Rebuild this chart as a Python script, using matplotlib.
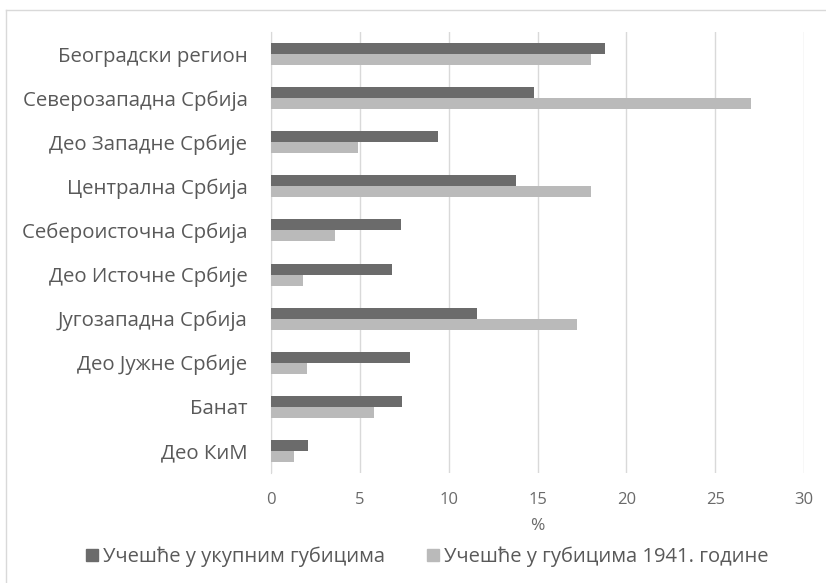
import matplotlib.pyplot as plt
from matplotlib.lines import Line2D
import numpy as np

plt.rcParams['font.family'] = ['Open Sans', 'DejaVu Sans']

regions = ['Београдски регион', 'Северозападна Србија', 'Део Западне Србије',
           'Централна Србија', 'Себероисточна Србија', 'Део Источне Србије',
           'Југозападна Србија', 'Део Јужне Србије', 'Банат', 'Део КиМ']
total_losses = [18.8, 14.8, 9.4, 13.8, 7.3, 6.8, 11.6, 7.8, 7.4, 2.1]
losses_1941 = [18.0, 27.0, 4.9, 18.0, 3.6, 1.8, 17.2, 2.05, 5.8, 1.3]
xticks = [0, 5, 10, 15, 20, 25, 30]

dark = '#6b6b6b'
light = '#bababa'
txt = '#595959'

fig = plt.figure(figsize=(8.26, 5.83), dpi=100)
ax = fig.add_axes([271/826, 1 - 473/583, (804-271)/826, (473-32)/583])

y = np.arange(len(regions))
h = 0.25
ax.barh(y - h/2, total_losses, height=h, color=dark, zorder=3)
ax.barh(y + h/2, losses_1941, height=h, color=light, zorder=3)

ax.set_ylim(len(regions) - 0.5, -0.5)
ax.set_xlim(0, 30)
ax.set_xticks(xticks)
ax.set_yticks(y)
ax.set_yticklabels(regions, fontsize=14.7, color=txt)
ax.tick_params(axis='y', length=0, pad=17)
ax.tick_params(axis='x', length=0, pad=14, labelsize=12, labelcolor='#6a6a6a')
ax.xaxis.grid(True, color='#d9d9d9', linewidth=1, zorder=0)
for s in ['top', 'right', 'bottom']:
    ax.spines[s].set_visible(False)
ax.spines['left'].set_color('#d9d9d9')
ax.set_xlabel('%', fontsize=12.5, color='#6a6a6a', labelpad=7)

handles = [Line2D([], [], marker='s', linestyle='none', markersize=9, color=dark),
           Line2D([], [], marker='s', linestyle='none', markersize=9, color=light)]
fig.legend(handles, ['Учешће у укупним губицима', 'Учешће у губицима 1941. године'],
           loc='center', bbox_to_anchor=(426/826, 1 - 557/583), ncol=2, frameon=False,
           fontsize=14.5, labelcolor=txt, handletextpad=0.15, columnspacing=2.0,
           handlelength=0.8)

# chart border
fig.add_artist(Line2D([6/826, 6/826], [0, 1 - 10/583], color='#d9d9d9', lw=1))
fig.add_artist(Line2D([6/826, 1], [1 - 10/583, 1 - 10/583], color='#d9d9d9', lw=1))

fig.savefig('out.png', dpi=100)
